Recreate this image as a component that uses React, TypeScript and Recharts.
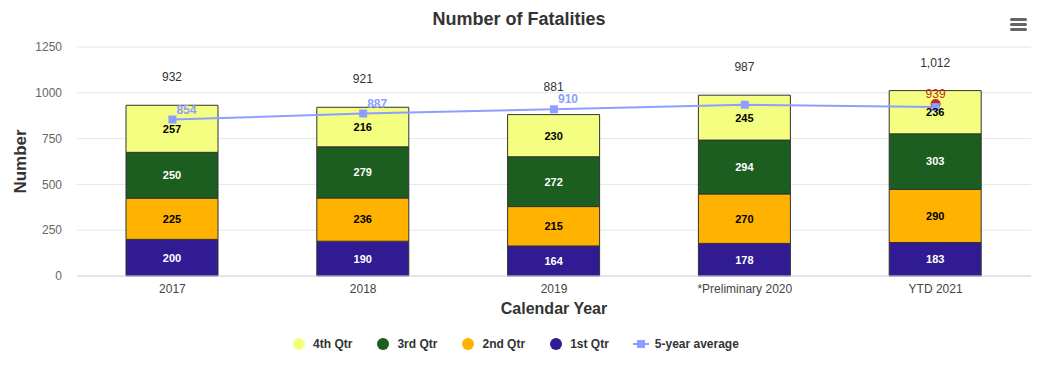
import {
  ComposedChart,
  Bar,
  Line,
  XAxis,
  YAxis,
  CartesianGrid,
  Legend,
  LabelList,
} from "recharts"

const years = ["2017", "2018", "2019", "*Preliminary 2020", "YTD 2021"]
const q1 = [200, 190, 164, 178, 183]
const q2 = [225, 236, 215, 270, 290]
const q3 = [250, 279, 272, 294, 303]
const q4 = [257, 216, 230, 245, 236]
const fiveYearAvg = [854, 887, 910, 935, 922]
const avgLabelShown = [true, true, true, false, false]
const projected = [null, null, null, null, 939]
const yTicks = [0, 250, 500, 750, 1000, 1250]

const FONT = "'Liberation Sans', Arial, Helvetica, sans-serif"

const COLORS = {
  q4: "#f4ff81",
  q3: "#1b5e20",
  q2: "#ffb300",
  q1: "#311b92",
  avg: "#8c9eff",
  red: "#c62828",
}

const data = years.map((year, i) => ({
  year,
  q1: q1[i],
  q2: q2[i],
  q3: q3[i],
  q4: q4[i],
  total: q1[i] + q2[i] + q3[i] + q4[i],
  avg: fiveYearAvg[i],
  projected: projected[i],
}))

const legendItems = [
  { name: "4th Qtr", color: COLORS.q4, type: "circle" },
  { name: "3rd Qtr", color: COLORS.q3, type: "circle" },
  { name: "2nd Qtr", color: COLORS.q2, type: "circle" },
  { name: "1st Qtr", color: COLORS.q1, type: "circle" },
  { name: "5-year average", color: COLORS.avg, type: "line" },
]

function LegendContent() {
  return (
    <div
      style={{
        height: 24,
        display: "flex",
        justifyContent: "center",
        alignItems: "center",
        fontFamily: FONT,
        fontSize: 12,
        fontWeight: "bold",
        color: "#333",
      }}
    >
      {legendItems.map((it) => (
        <div key={it.name} style={{ display: "flex", alignItems: "center", margin: "0 12px" }}>
          {it.type === "circle" ? (
            <svg width={14} height={14} style={{ marginRight: 7 }}>
              <circle cx={7} cy={7} r={6} fill={it.color} />
            </svg>
          ) : (
            <svg width={16} height={14} style={{ marginRight: 6 }}>
              <line x1={0} y1={7} x2={16} y2={7} stroke={it.color} strokeWidth={2} />
              <rect x={4} y={3} width={8} height={8} fill={it.color} />
            </svg>
          )}
          <span>{it.name}</span>
        </div>
      ))}
    </div>
  )
}

function SquareDot(props: any) {
  const { cx, cy, index } = props
  if (cx == null || cy == null) return <g key={index} />
  return <rect key={index} x={cx - 4} y={cy - 4} width={8} height={8} fill={COLORS.avg} />
}

function AvgLabel(props: any) {
  const { x, y, value, index } = props
  if (!avgLabelShown[index]) return null
  return (
    <text
      x={x + 14}
      y={y - 6}
      textAnchor="middle"
      fill={COLORS.avg}
      fontSize={12}
      fontWeight="bold"
      fontFamily={FONT}
    >
      {value}
    </text>
  )
}

function TotalLabel(props: any) {
  const { x, y, width, value } = props
  return (
    <text
      x={x + width / 2}
      y={y - 24}
      textAnchor="middle"
      fill="#333"
      fontSize={12}
      fontFamily={FONT}
    >
      {Number(value).toLocaleString("en-US")}
    </text>
  )
}

function YLabel(props: any) {
  const { viewBox } = props
  const cy = viewBox.y + viewBox.height / 2
  return (
    <text
      x={26}
      y={cy}
      transform={`rotate(-90, 26, ${cy})`}
      textAnchor="middle"
      fill="#333"
      fontSize={17}
      fontWeight="bold"
      fontFamily={FONT}
    >
      Number
    </text>
  )
}

const segLabel = (fill: string) => ({
  position: "center" as const,
  fill,
  fontSize: 11,
  fontWeight: "bold",
  fontFamily: FONT,
})

export default function App() {
  return (
    <div style={{ position: "absolute", left: 0, top: 0, width: 1056, height: 365, background: "#fff" }}>
      <div
        style={{
          position: "absolute",
          left: 0,
          top: 9,
          width: 1038,
          textAlign: "center",
          fontFamily: FONT,
          fontSize: 18,
          fontWeight: "bold",
          color: "#333",
        }}
      >
        Number of Fatalities
      </div>
      <svg style={{ position: "absolute", left: 1008, top: 15 }} width={22} height={20}>
        <rect x={2} y={3} width={17} height={3} rx={1.5} fill="#666" />
        <rect x={2} y={8} width={17} height={3} rx={1.5} fill="#666" />
        <rect x={2} y={13} width={17} height={3} rx={1.5} fill="#666" />
      </svg>
      <ComposedChart
        width={1056}
        height={365}
        data={data}
        margin={{ top: 47, right: 25, left: 0, bottom: 9 }}
        style={{ fontFamily: FONT }}
      >
        <CartesianGrid vertical={false} stroke="#e6e6e6" />
        <XAxis
          dataKey="year"
          height={56}
          axisLine={{ stroke: "#ccd6eb" }}
          tickLine={false}
          tick={{ fontSize: 12, fill: "#444" }}
          label={{
            value: "Calendar Year",
            position: "insideTop",
            offset: 27,
            fill: "#333",
            fontSize: 16,
            fontWeight: "bold",
          }}
        />
        <YAxis
          width={77}
          domain={[0, 1250]}
          ticks={yTicks}
          axisLine={false}
          tickLine={false}
          tickSize={0}
          tickMargin={15}
          tick={{ fontSize: 12, fill: "#666" }}
          label={<YLabel />}
        />
        <Legend verticalAlign="bottom" content={<LegendContent />} />
        <Bar dataKey="q1" name="1st Qtr" stackId="a" fill={COLORS.q1} stroke="#333" barSize={92} isAnimationActive={false}>
          <LabelList dataKey="q1" {...segLabel("#fff")} />
        </Bar>
        <Bar dataKey="q2" name="2nd Qtr" stackId="a" fill={COLORS.q2} stroke="#333" barSize={92} isAnimationActive={false}>
          <LabelList dataKey="q2" {...segLabel("#000")} />
        </Bar>
        <Bar dataKey="q3" name="3rd Qtr" stackId="a" fill={COLORS.q3} stroke="#333" barSize={92} isAnimationActive={false}>
          <LabelList dataKey="q3" {...segLabel("#fff")} />
        </Bar>
        <Bar dataKey="q4" name="4th Qtr" stackId="a" fill={COLORS.q4} stroke="#333" barSize={92} isAnimationActive={false}>
          <LabelList dataKey="q4" {...segLabel("#000")} />
          <LabelList dataKey="total" content={<TotalLabel />} />
        </Bar>
        <Line
          dataKey="projected"
          stroke="none"
          dot={{ r: 5, fill: COLORS.red, stroke: "none" }}
          activeDot={false}
          isAnimationActive={false}
        >
          <LabelList
            dataKey="projected"
            position="top"
            offset={6}
            fill={COLORS.red}
            fontSize={12}
            fontFamily={FONT}
          />
        </Line>
        <Line
          dataKey="avg"
          name="5-year average"
          stroke={COLORS.avg}
          strokeWidth={2}
          dot={<SquareDot />}
          activeDot={false}
          isAnimationActive={false}
        >
          <LabelList dataKey="avg" content={<AvgLabel />} />
        </Line>
      </ComposedChart>
    </div>
  )
}
